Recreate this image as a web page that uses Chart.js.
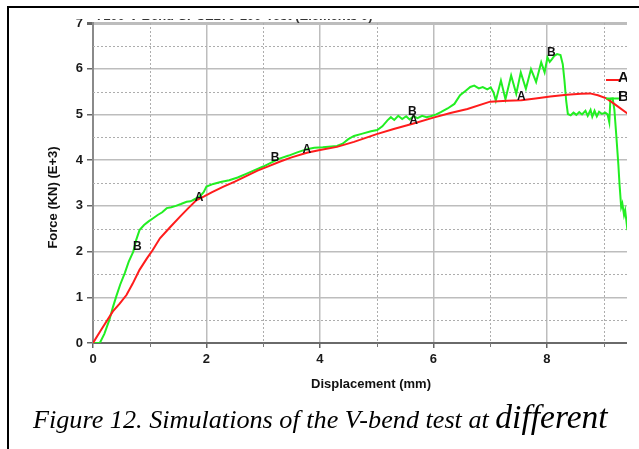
<!DOCTYPE html>
<html>
<head>
<meta charset="utf-8">
<script src="https://cdn.jsdelivr.net/npm/chart.js@4/dist/chart.umd.min.js"></script>
<style>
  html, body { margin: 0; padding: 0; background: #fff; }
  body { width: 639px; height: 449px; position: relative; overflow: hidden; }
  #clip { position: absolute; left: 0; top: 19px; width: 627px; height: 381px; overflow: hidden; }
  #chart { position: absolute; left: 0; top: -42px; }
  #frame { position: absolute; left: 7px; top: 6px; width: 640px; height: 450px;
           border-top: 2px solid #000; border-left: 2px solid #000; pointer-events: none; }
  #caption { position: absolute; left: 33px; top: 398px; white-space: nowrap; color: #000;
             font-family: "Liberation Serif", serif; font-style: italic; font-size: 26.2px; }
  #caption span { font-size: 33.5px; }
</style>
</head>
<body>
<div id="clip"><canvas id="chart" width="700" height="430"></canvas></div>
<div id="frame"></div>
<div id="caption">Figure 12. Simulations of the V-bend test at <span>different</span></div>
<script>
// series A (red)
const aX = [0, 0.15, 0.35, 0.47, 0.59, 0.7, 0.82, 0.95, 1.05, 1.18, 1.35, 1.53, 1.68, 1.82, 1.95,
  2.1, 2.3, 2.5, 2.7, 2.9, 3.1, 3.3, 3.5, 3.77, 4.0, 4.3, 4.6, 5.0, 5.3, 5.65, 6.0, 6.3, 6.6,
  7.0, 7.3, 7.55, 7.8, 8.06, 8.35, 8.6, 8.76, 8.9, 9.05, 9.2, 9.42];
const aY = [0, 0.3, 0.69, 0.86, 1.05, 1.3, 1.6, 1.85, 2.03, 2.29, 2.52, 2.76, 2.95, 3.12, 3.2,
  3.3, 3.42, 3.53, 3.65, 3.77, 3.87, 3.97, 4.06, 4.16, 4.22, 4.29, 4.4, 4.57, 4.68, 4.8, 4.93, 5.03, 5.12,
  5.28, 5.3, 5.31, 5.35, 5.39, 5.43, 5.45, 5.46, 5.42, 5.35, 5.22, 5.02];

// series B (green)
const bX = [0, 0.12, 0.2, 0.29, 0.35, 0.41, 0.48, 0.56, 0.63, 0.71, 0.76, 0.82, 0.9, 0.98, 1.06,
  1.14, 1.22, 1.3, 1.38, 1.46, 1.55, 1.65, 1.72, 1.8, 1.88, 1.95, 2.0, 2.12, 2.25, 2.4, 2.55, 2.7,
  2.85, 3.0, 3.15, 3.3, 3.45, 3.6, 3.77, 3.9, 4.05, 4.2, 4.3, 4.4, 4.5, 4.6, 4.75, 4.9, 5.01, 5.1,
  5.19, 5.25, 5.31, 5.38, 5.45, 5.52, 5.58, 5.65, 5.72, 5.8, 5.88, 5.95, 6.05, 6.13, 6.25, 6.37,
  6.47, 6.57, 6.65, 6.72, 6.8, 6.87, 6.95, 7.01, 7.06, 7.1, 7.19, 7.27, 7.37, 7.46, 7.54, 7.63,
  7.72, 7.81, 7.9, 7.96, 8.01, 8.05, 8.09, 8.13, 8.18, 8.24, 8.28, 8.31, 8.34, 8.37, 8.42, 8.47,
  8.52, 8.57, 8.62, 8.68, 8.72, 8.77, 8.8, 8.84, 8.88, 8.92, 8.97, 9.03, 9.07, 9.1, 9.12, 9.16,
  9.19, 9.22, 9.26, 9.28, 9.31, 9.33, 9.36, 9.38, 9.42];
const bY = [0, 0, 0.2, 0.51, 0.78, 1.02, 1.28, 1.53, 1.78, 2.0, 2.25, 2.47, 2.58, 2.66, 2.73,
  2.8, 2.86, 2.95, 2.97, 3.0, 3.04, 3.09, 3.1, 3.15, 3.2, 3.3, 3.42, 3.48, 3.52, 3.56, 3.62, 3.7,
  3.78, 3.86, 3.95, 4.04, 4.1, 4.17, 4.24, 4.27, 4.28, 4.3, 4.31, 4.36, 4.46, 4.53, 4.58, 4.63, 4.66, 4.74,
  4.87, 4.94, 4.88, 4.97, 4.9, 4.96, 4.89, 4.96, 4.92, 4.97, 4.94, 4.96, 5.0, 5.05, 5.13, 5.23,
  5.42, 5.52, 5.6, 5.63, 5.57, 5.6, 5.55, 5.59, 5.48, 5.3, 5.74, 5.33, 5.85, 5.45, 5.92, 5.56,
  5.99, 5.71, 6.14, 5.92, 6.25, 6.15, 6.21, 6.28, 6.32, 6.3, 6.1, 5.74, 5.3, 5.01, 4.98, 5.04,
  4.99, 5.05, 5.0, 5.08, 4.97, 5.1, 4.95, 5.08, 4.96, 5.06, 5.01, 5.04, 5.0, 4.83, 5.34, 5.35,
  5.1, 4.6, 3.9, 3.48, 2.97, 3.05, 2.8, 2.9, 2.47];

// curve markers
const markText = ['B', 'A', 'B', 'A', 'B', 'A', 'A', 'B'];
const markX = [0.78, 1.87, 3.21, 3.77, 5.63, 5.65, 7.55, 8.08];
const markY = [2.11, 3.17, 4.06, 4.23, 5.07, 4.86, 5.39, 6.34];

const xMajor = [0, 2, 4, 6, 8];
const xMinor = [1, 3, 5, 7, 9];
const yMajor = [0, 1, 2, 3, 4, 5, 6, 7];
const yMinor = [0.5, 1.5, 2.5, 3.5, 4.5, 5.5, 6.5];

const FONT = '"Liberation Sans", Arial, sans-serif';
const RED = '#ff1c1c';
const GREEN = '#22ee22';

function toPoints(xs, ys) {
  return xs.map((x, i) => ({ x, y: ys[i] }));
}

const minorGrid = {
  id: 'minorGrid',
  beforeDatasetsDraw(chart) {
    const { ctx, chartArea: a, scales: { x, y } } = chart;
    ctx.save();
    ctx.strokeStyle = '#adadad';
    ctx.lineWidth = 1;
    ctx.setLineDash([2, 2]);
    for (const v of xMinor) {
      const px = Math.round(x.getPixelForValue(v)) + 0.5;
      ctx.beginPath(); ctx.moveTo(px, a.top); ctx.lineTo(px, a.bottom); ctx.stroke();
    }
    for (const v of yMinor) {
      const py = Math.round(y.getPixelForValue(v)) + 0.5;
      ctx.beginPath(); ctx.moveTo(a.left, py); ctx.lineTo(a.right, py); ctx.stroke();
    }
    // short ticks under the x axis for the minor values
    ctx.setLineDash([]);
    ctx.strokeStyle = '#777';
    for (const v of xMinor) {
      const px = Math.round(x.getPixelForValue(v)) + 0.5;
      ctx.beginPath(); ctx.moveTo(px, a.bottom); ctx.lineTo(px, a.bottom + 4); ctx.stroke();
    }
    ctx.restore();
  },
};

const annotations = {
  id: 'annotations',
  afterDatasetsDraw(chart) {
    const { ctx, scales: { x, y } } = chart;
    ctx.save();
    ctx.fillStyle = '#111';
    ctx.font = 'bold 12px ' + FONT;
    ctx.textAlign = 'center';
    ctx.textBaseline = 'middle';
    markText.forEach((t, i) => {
      ctx.fillText(t, x.getPixelForValue(markX[i]), y.getPixelForValue(markY[i]));
    });

    // legend (cut by the crop on the right)
    ctx.lineWidth = 2;
    chart.data.datasets.forEach((ds, i) => {
      const ly = 103 + i * 18.5;
      ctx.strokeStyle = ds.borderColor;
      ctx.beginPath(); ctx.moveTo(606, ly); ctx.lineTo(621, ly); ctx.stroke();
      ctx.font = 'bold 15px ' + FONT;
      ctx.textAlign = 'left';
      ctx.textBaseline = 'alphabetic';
      ctx.fillStyle = '#111';
      ctx.fillText(ds.label, 618, ly + 2);
    });

    // axis titles
    ctx.font = 'bold 13px ' + FONT;
    ctx.textAlign = 'center';
    ctx.textBaseline = 'middle';
    ctx.fillText('Displacement (mm)', 371, 407);
    ctx.save();
    ctx.translate(53.5, 220.5);
    ctx.rotate(-Math.PI / 2);
    ctx.fillText('Force (KN) (E+3)', 0, 0);
    ctx.restore();

    // plot title, mostly cut off above
    ctx.textAlign = 'left';
    ctx.textBaseline = 'alphabetic';
    ctx.fillStyle = '#333';
    ctx.fillText('7100-V-Bend-SPCE270-100-Test (Elements 0)', 96, 42.5);
    ctx.restore();
  },
};

new Chart(document.getElementById('chart'), {
  type: 'line',
  data: {
    datasets: [
      { label: 'A', data: toPoints(aX, aY), borderColor: RED, borderWidth: 2, pointRadius: 0, tension: 0 },
      { label: 'B', data: toPoints(bX, bY), borderColor: GREEN, borderWidth: 2, pointRadius: 0, tension: 0 },
    ],
  },
  options: {
    responsive: false,
    animation: false,
    layout: { padding: { top: 46, right: 51, bottom: 34, left: 0 } },
    plugins: { legend: { display: false }, tooltip: { enabled: false } },
    scales: {
      x: {
        type: 'linear',
        min: 0,
        max: 9.8,
        afterBuildTicks: (s) => { s.ticks = xMajor.map((v) => ({ value: v })); },
        afterFit: (s) => { s.height = 30; },
        grid: { color: '#bdbdbd', lineWidth: 1.5, tickColor: '#666', tickLength: 5 },
        border: { color: '#6a6a6a', width: 2 },
        ticks: { color: '#1a1a1a', font: { family: FONT, size: 13, weight: 'bold' }, padding: 4, maxRotation: 0 },
      },
      y: {
        min: 0,
        max: 7,
        afterBuildTicks: (s) => { s.ticks = yMajor.map((v) => ({ value: v })); },
        afterFit: (s) => { s.width = 93; },
        grid: {
          color: '#bdbdbd',
          lineWidth: (c) => (c.tick && c.tick.value === 7 ? 3 : 1.5),
          tickColor: '#666',
          tickLength: 6,
        },
        border: { color: '#8a8a8a', width: 2 },
        ticks: { color: '#1a1a1a', font: { family: FONT, size: 13, weight: 'bold' }, padding: 4 },
      },
    },
  },
  plugins: [minorGrid, annotations],
});
</script>
</body>
</html>
